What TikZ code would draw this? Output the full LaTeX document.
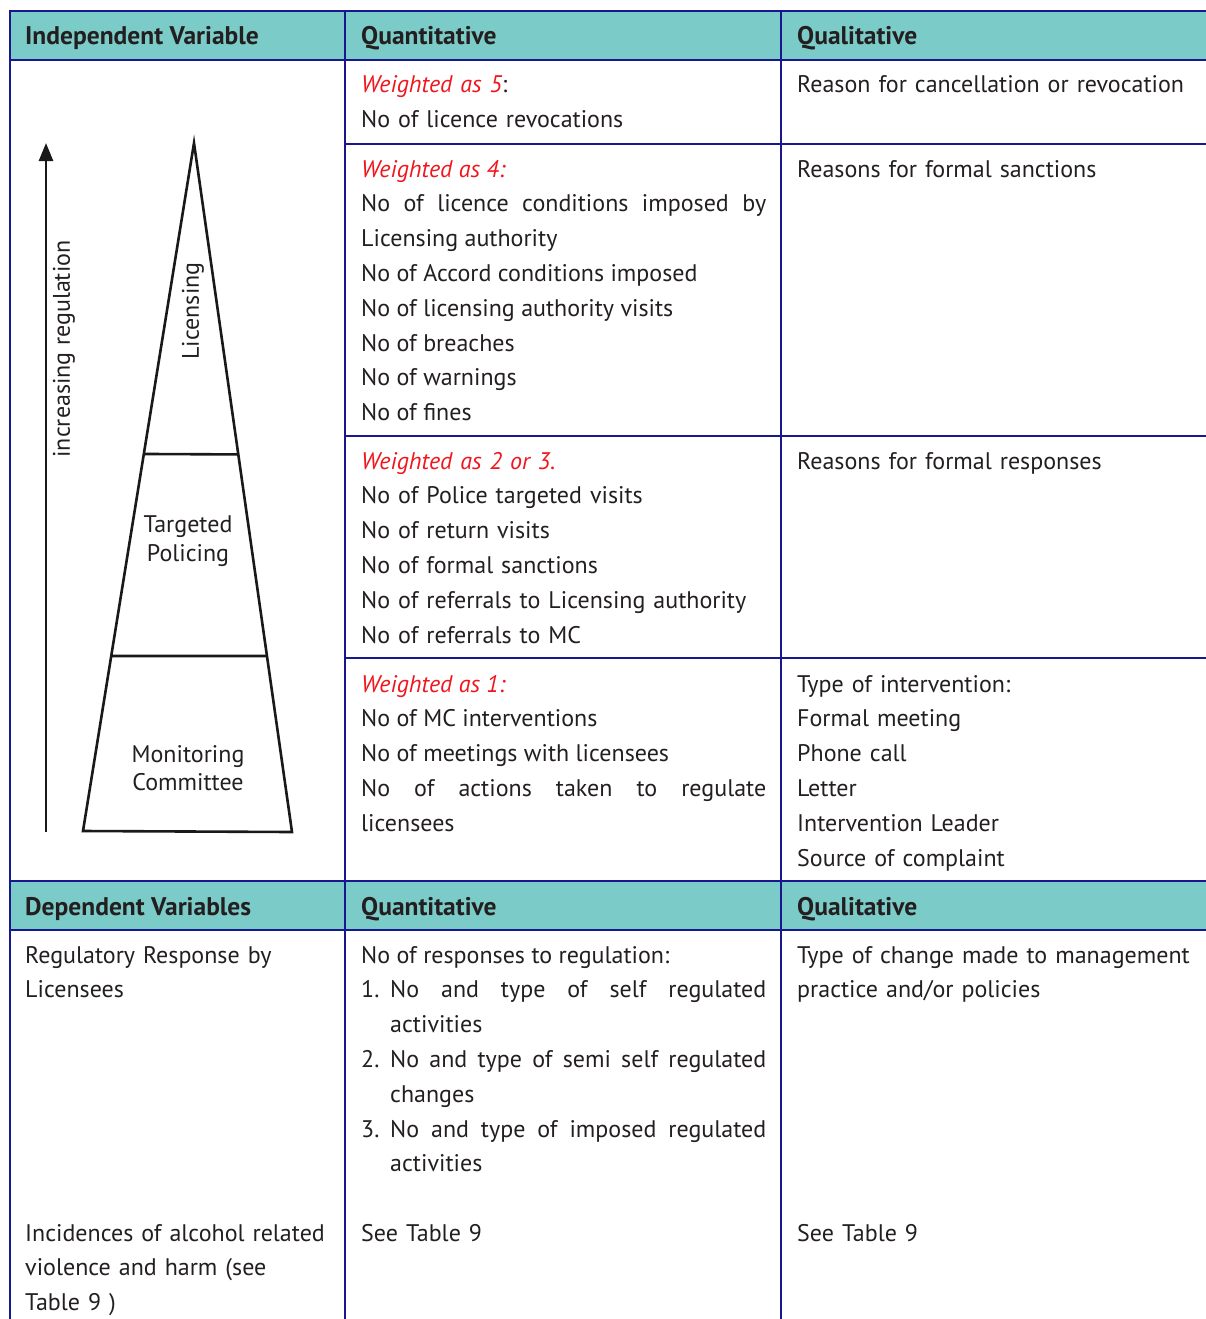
\documentclass[tikz,border=0pt]{standalone}
\usepackage{fontspec}
\setmainfont{PT Sans}
\usetikzlibrary{arrows.meta,calc}
\definecolor{headteal}{RGB}{123,204,200}
\definecolor{rulenavy}{RGB}{24,24,140}
\definecolor{textgrey}{RGB}{35,31,32}
\definecolor{weightred}{RGB}{240,22,30}
\newcommand{\cellfont}{\fontsize{24pt}{34.8pt}\selectfont}
\newcommand{\wt}[1]{\textcolor{weightred}{\itshape #1}}
\newcommand{\itemno}[1]{\makebox[29pt][l]{#1}}
\tikzset{
  rule/.style={draw=rulenavy, line width=2pt},
  cell/.style={anchor=base west, inner sep=0pt, text width=405pt, align=justify,
    text=textgrey, font=\cellfont},
  plaincell/.style={cell, align=left},
  headtext/.style={anchor=base west, inner sep=0pt, text=textgrey,
    font=\fontsize{25.5pt}{30pt}\selectfont\bfseries},
  pyr/.style={draw=black!90, line width=2.6pt},
  pyrtext/.style={align=center, inner sep=0pt, text=textgrey,
    font=\fontsize{24pt}{28.5pt}\selectfont}
}
\begin{document}
\begin{tikzpicture}[x=1pt,y=-1pt]
  \useasboundingbox (0,0) rectangle (1206,1319);
  % header bands
  \fill[headteal] (10,11) rectangle (1206,60);
  \fill[headteal] (10,881) rectangle (1206,930);
  % table rules
  \draw[rule] (10,1319) -- (10,11) -- (1206,11);
  \draw[rule] (10,60) -- (1206,60);
  \draw[rule] (345,11) -- (345,1319);
  \draw[rule] (781,11) -- (781,1319);
  \draw[rule] (345,144) -- (1206,144);
  \draw[rule] (345,436) -- (1206,436);
  \draw[rule] (345,658) -- (1206,658);
  \draw[rule] (10,881) -- (1206,881);
  \draw[rule] (10,930) -- (1206,930);

  % headings
  \node[headtext] (indep) at (25,45) {Independent Variable};
  \node[headtext] (quanttop) at (361,45) {Quantitative};
  \node[headtext] (qualtop) at (797,45) {Qualitative};
  \node[headtext] (dep) at (25,915) {Dependent Variables};
  \node[headtext] (quantbot) at (361,915) {Quantitative};
  \node[headtext] (qualbot) at (797,915) {Qualitative};

  % independent variable rows
  \node[plaincell] (wfive) at (361,93)
    {\wt{Weighted as 5}:\\No of licence revocations};
  \node[plaincell] (rfive) at (797,93) {Reason for cancellation or revocation};
  \node[cell] (wfour) at (361,177)
    {\wt{Weighted as 4:}\newline
     No of licence conditions imposed by\linebreak
     Licensing authority\newline
     No of Accord conditions imposed\newline
     No of licensing authority visits\newline
     No of breaches\newline
     No of warnings\newline
     No of fines};
  \node[plaincell] (rfour) at (797,177) {Reasons for formal sanctions};
  \node[plaincell] (wtwo) at (361,469)
    {\wt{Weighted as 2 or 3.}\\
     No of Police targeted visits\\
     No of return visits\\
     No of formal sanctions\\
     No of referrals to Licensing authority\\
     No of referrals to MC};
  \node[plaincell] (rtwo) at (797,469) {Reasons for formal responses};
  \node[cell] (wone) at (361,692)
    {\wt{Weighted as 1:}\newline
     No of MC interventions\newline
     No of meetings with licensees\newline
     No of actions taken to regulate\linebreak
     licensees};
  \node[plaincell] (rone) at (797,692)
    {Type of intervention:\\
     Formal meeting\\
     Phone call\\
     Letter\\
     Intervention Leader\\
     Source of complaint};

  % dependent variable rows
  \node[plaincell, text width=310pt] (regresp) at (25,963)
    {Regulatory Response by\\Licensees};
  \node[cell] (respno) at (361,963)
    {No of responses to regulation:\newline
     \itemno{1.}No and type of self regulated\linebreak
     \hspace*{29pt}activities\newline
     \itemno{2.}No and type of semi self regulated\linebreak
     \hspace*{29pt}changes\newline
     \itemno{3.}No and type of imposed regulated\linebreak
     \hspace*{29pt}activities};
  \node[plaincell, text width=420pt] (change) at (797,963)
    {Type of change made to management\\practice and/or policies};
  \node[plaincell, text width=310pt] (alcohol) at (25,1241)
    {Incidences of alcohol related\\violence and harm (see\\Table 9 )};
  \node[plaincell] (seequant) at (361,1241) {See Table 9};
  \node[plaincell] (seequal) at (797,1241) {See Table 9};

  % regulation pyramid
  \coordinate (arrbot) at (46,832);
  \coordinate (arrtop) at (46,143);
  \draw[pyr, -{Triangle[length=18pt,width=14pt]}] (arrbot) -- (arrtop);
  \node[pyrtext, rotate=90] (incr) at (64,349) {increasing regulation};
  \coordinate (apex) at (194,143);
  \coordinate (bl) at (83,831);
  \coordinate (br) at (292,832);
  \draw[pyr] (bl) -- (apex) -- (br) -- cycle;
  \draw[pyr] ($(apex)!0.452!(bl)$) -- ($(apex)!0.452!(br)$);
  \draw[pyr] ($(apex)!0.7456!(bl)$) -- ($(apex)!0.7446!(br)$);
  \node[pyrtext, rotate=90] (lic) at (193,311) {Licensing};
  \node[pyrtext] (tpol) at (188,541) {Targeted\\Policing};
  \node[pyrtext] (moncom) at (188,768) {Monitoring\\Committee};
\end{tikzpicture}
\end{document}
